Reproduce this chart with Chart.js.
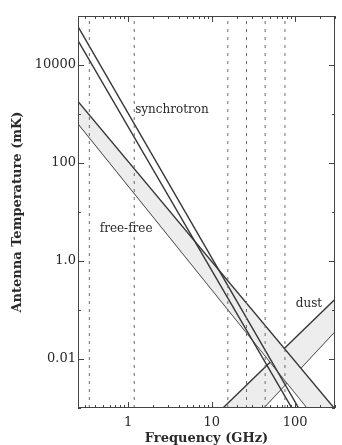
<!DOCTYPE html>
<html>
<head>
<meta charset="utf-8">
<script src="https://cdn.jsdelivr.net/npm/chart.js@4/dist/chart.umd.min.js"></script>
<style>
  html, body { margin: 0; padding: 0; background: #fff; }
  #wrap { width: 342px; height: 445px; }
</style>
</head>
<body>
<div id="wrap"><canvas id="chart" width="342" height="445"></canvas></div>
<script>
// line end points (GHz, mK)
const freqEdges = [0.25, 300];
const synchHigh = [61000, 5.2e-5];
const synchLow = [31600, 3.05e-5];
const freeFreeHigh = [1810, 9.5e-4];
const freeFreeLow = [647, 2.0e-4];

const dustFreqs = [10, 300];
const dustHigh = [6.0e-4, 0.165];
const dustLow = [7.4e-5, 0.037];

// observing bands (dotted verticals)
const bandFreqs = [0.342, 1.18, 15.6, 26.1, 43.7, 75.4];
const tempRange = [0.001, 100000];

// ticks
const xTicks = [0.3, 0.4, 0.5, 0.6, 0.7, 0.8, 0.9, 1, 2, 3, 4, 5, 6, 7, 8, 9,
    10, 20, 30, 40, 50, 60, 70, 80, 90, 100, 200, 300];
const xLabelled = [1, 10, 100];
const yTicks = [0.001, 0.01, 0.1, 1, 10, 100, 1000, 10000, 100000];
const yLabels = { 0.01: '0.01', 1: '1.0', 100: '100', 10000: '10000' };

// in-plot labels
const noteText = ['synchrotron', 'free-free', 'dust'];
const noteFreq = [1.21, 0.455, 101.6];
const noteTemp = [1216, 4.6, 0.136];

const LINE = '#363636';
const BAND = '#ededed';
const SERIF = '"DejaVu Serif", "Liberation Serif", serif';

const pts = (xs, ys) => xs.map((x, i) => ({ x, y: ys[i] }));

const curve = (label, xs, ys, fill) => ({
    label,
    data: pts(xs, ys),
    borderColor: LINE,
    borderWidth: 1.4,
    pointRadius: 0,
    backgroundColor: BAND,
    fill: fill || false,
    order: 2,
});

const bandLines = bandFreqs.map((f) => ({
    label: 'band ' + f,
    data: pts([f, f], tempRange),
    borderColor: '#6a6a6a',
    borderWidth: 1,
    borderDash: [3, 5],
    pointRadius: 0,
    fill: false,
    order: 1,
}));

const decorations = {
    id: 'decorations',
    afterDatasetsDraw(chart) {
        const { ctx, chartArea: a, scales: { x, y } } = chart;
        ctx.save();
        ctx.strokeStyle = '#444';
        ctx.lineWidth = 1;
        ctx.strokeRect(a.left + 0.5, a.top + 0.5, a.right - a.left - 1, a.bottom - a.top - 1);

        ctx.beginPath();
        xTicks.forEach((v) => {
            const px = Math.round(x.getPixelForValue(v)) + 0.5;
            const len = xLabelled.includes(v) ? 6 : 3;
            ctx.moveTo(px, a.bottom); ctx.lineTo(px, a.bottom - len);
            ctx.moveTo(px, a.top); ctx.lineTo(px, a.top + len);
        });
        yTicks.forEach((v) => {
            const py = Math.round(y.getPixelForValue(v)) + 0.5;
            const len = yLabels[v] ? 6 : 3;
            ctx.moveTo(a.left, py); ctx.lineTo(a.left + len, py);
            ctx.moveTo(a.right, py); ctx.lineTo(a.right - len, py);
        });
        ctx.stroke();

        ctx.fillStyle = '#2a2a2a';
        ctx.font = '12px ' + SERIF;
        ctx.textBaseline = 'middle';
        ctx.textAlign = 'left';
        noteText.forEach((t, i) => {
            ctx.fillText(t, x.getPixelForValue(noteFreq[i]), y.getPixelForValue(noteTemp[i]));
        });
        ctx.restore();
    },
};

new Chart(document.getElementById('chart'), {
    type: 'line',
    data: {
        datasets: [
            ...bandLines,
            curve('synchrotron high', freqEdges, synchHigh),
            curve('synchrotron low', freqEdges, synchLow),
            curve('free-free high', freqEdges, freeFreeHigh, '+1'),
            curve('free-free low', freqEdges, freeFreeLow),
            curve('dust high', dustFreqs, dustHigh, '+1'),
            curve('dust low', dustFreqs, dustLow),
        ],
    },
    options: {
        responsive: false,
        animation: false,
        layout: { padding: { top: 16, right: 3, left: 0, bottom: 0 } },
        plugins: { legend: { display: false }, tooltip: { enabled: false } },
        scales: {
            x: {
                type: 'logarithmic',
                min: 0.25,
                max: 300,
                afterBuildTicks: (s) => { s.ticks = xTicks.map((value) => ({ value })); },
                afterFit: (s) => { s.height = 37; },
                grid: { display: false, drawTicks: false },
                border: { display: false },
                ticks: {
                    autoSkip: false,
                    maxRotation: 0,
                    padding: 7,
                    color: '#2a2a2a',
                    font: { family: SERIF, size: 13 },
                    callback: (v) => (xLabelled.includes(v) ? String(v) : ''),
                },
                title: {
                    display: true,
                    text: 'Frequency (GHz)',
                    color: '#2a2a2a',
                    font: { family: SERIF, size: 13, weight: 'bold', lineHeight: 1 },
                    padding: 0,
                },
            },
            y: {
                type: 'logarithmic',
                min: 0.001,
                max: 100000,
                afterBuildTicks: (s) => { s.ticks = yTicks.map((value) => ({ value })); },
                afterFit: (s) => { s.width = 78; },
                grid: { display: false, drawTicks: false },
                border: { display: false },
                ticks: {
                    autoSkip: false,
                    padding: 2,
                    color: '#2a2a2a',
                    font: { family: SERIF, size: 13 },
                    callback: (v) => yLabels[v] || '',
                },
                title: {
                    display: true,
                    text: 'Antenna Temperature (mK)',
                    color: '#2a2a2a',
                    font: { family: SERIF, size: 13, weight: 'bold', lineHeight: 1 },
                    padding: { top: 11, bottom: 0 },
                },
            },
        },
    },
    plugins: [decorations],
});
</script>
</body>
</html>
